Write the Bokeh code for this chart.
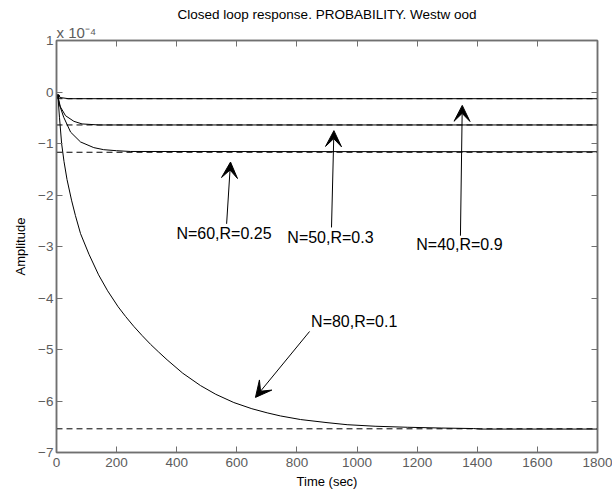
from bokeh.plotting import figure
from bokeh.models import Range1d, LinearAxis, Title, Arrow, VeeHead, FixedTicker, ColumnDataSource
from bokeh.core.properties import value
from bokeh.embed import file_html
from bokeh.resources import INLINE

# ---- data (amplitude in units of 1e-4) ----
time_ticks = [0, 200, 400, 600, 800, 1000, 1200, 1400, 1600, 1800]
amp_ticks = [-7, -6, -5, -4, -3, -2, -1, 0, 1]

t40 = [5, 15, 40, 1800]
v40 = [-0.08, -0.11, -0.13, -0.13]

t50 = [5, 13, 30, 58, 85, 141, 1800]
v50 = [-0.10, -0.29, -0.46, -0.57, -0.62, -0.64, -0.64]

t60 = [5, 10, 24, 47, 80, 124, 157, 200, 246, 1800]
v60 = [-0.10, -0.25, -0.49, -0.78, -0.97, -1.08, -1.12, -1.14, -1.155, -1.16]

t80 = [5, 10, 17, 25, 35, 50, 63, 80, 108, 140, 170, 205, 230, 257, 285, 313, 340,
       368, 420, 479, 530, 590, 650, 701, 745, 812, 900, 967, 1060, 1167, 1280,
       1388, 1410, 1800]
v80 = [-0.10, -0.50, -1.00, -1.35, -1.70, -2.10, -2.40, -2.75, -3.15, -3.55, -3.86,
       -4.17, -4.36, -4.55, -4.73, -4.90, -5.05, -5.20, -5.46, -5.70, -5.87, -6.03,
       -6.15, -6.23, -6.29, -6.36, -6.42, -6.46, -6.49, -6.51, -6.525, -6.535,
       -6.545, -6.545]

steady_levels = [-0.13, -0.64, -1.17, -6.54]

ann_text = ["N=60,R=0.25", "N=50,R=0.3", "N=40,R=0.9", "N=80,R=0.1"]
ann_x = [399, 768, 1197, 847]
ann_y = [-2.75, -2.82, -2.96, -4.45]

arrow_x0 = [566, 915, 1344, 842]
arrow_y0 = [-2.56, -2.63, -2.79, -4.65]
arrow_x1 = [579, 923, 1350, 662]
arrow_y1 = [-1.36, -0.75, -0.26, -5.93]

TITLE = "Closed loop response. PROBABILITY. Westw ood"
EXPONENT = "x 10\u207b\u2074"
FONT = "Liberation Sans"
GRAY = "#5c5c5c"
AXC = "#707070"

p = figure(width=612, height=494, output_backend="svg", toolbar_location=None,
           x_range=Range1d(0, 1800), y_range=Range1d(-7, 1))
p.min_border_left = 56
p.min_border_right = 15
p.min_border_top = 40
p.min_border_bottom = 42
p.background_fill_color = "white"
p.border_fill_color = "white"
p.outline_line_color = AXC
p.outline_line_width = 1.5
p.xgrid.visible = False
p.ygrid.visible = False

for ax, ticks in ((p.xaxis[0], time_ticks), (p.yaxis[0], amp_ticks)):
    ax.ticker = FixedTicker(ticks=ticks)
    ax.major_tick_in = 6
    ax.major_tick_out = 0
    ax.minor_tick_line_color = None
    ax.axis_line_color = AXC
    ax.axis_line_width = 1.5
    ax.major_tick_line_color = AXC
    ax.major_label_text_font = FONT
    ax.major_label_text_font_size = "13.5px"
    ax.major_label_text_color = GRAY
    ax.axis_label_text_font = FONT
    ax.axis_label_text_font_size = "13px"
    ax.axis_label_text_font_style = "normal"
    ax.axis_label_text_color = "black"

p.xaxis.axis_label = "Time (sec)"
p.yaxis.axis_label = "Amplitude"
p.xaxis.major_label_standoff = 5
p.xaxis.axis_label_standoff = 4
p.yaxis.major_label_standoff = 3
p.yaxis.axis_label_standoff = 7

# box ticks on top and right (no labels)
for loc, ticks in (("above", time_ticks), ("right", amp_ticks)):
    ax = LinearAxis(ticker=FixedTicker(ticks=ticks), major_label_text_font_size="0px",
                    major_label_text_color=None,
                    major_tick_in=6, major_tick_out=0, major_label_standoff=0,
                    minor_tick_line_color=None, axis_line_color=AXC, axis_line_width=1.5,
                    major_tick_line_color=AXC)
    p.add_layout(ax, loc)

# exponent (x 10^-4) just above the frame, left aligned
p.add_layout(Title(text=EXPONENT, align="left", text_font=FONT, text_font_size="15px",
                   text_font_style="normal", text_color=GRAY, standoff=0), "above")
# main title
p.add_layout(Title(text=TITLE, align="center", text_font=FONT, text_font_size="13.5px",
                   text_font_style="normal", text_color="black", standoff=0), "above")

# steady-state dashed lines
for lev in steady_levels:
    p.line([time_ticks[0], time_ticks[-1]], [lev, lev], line_color="black",
           line_width=1, line_dash="6 4")

# responses
for t, v in ((t40, v40), (t50, v50), (t60, v60), (t80, v80)):
    p.line(t, v, line_color="black", line_width=1)

p.scatter([t40[0]], [v40[0]], size=3, color="black")

# annotations
src = ColumnDataSource(dict(x=ann_x, y=ann_y, text=ann_text))
p.text(x="x", y="y", text="text", source=src, text_font=value(FONT),
       text_font_size="16px", text_baseline="middle", text_align="left",
       text_color="black")

asrc = ColumnDataSource(dict(x0=arrow_x0, y0=arrow_y0, x1=arrow_x1, y1=arrow_y1))
p.add_layout(Arrow(x_start="x0", y_start="y0", x_end="x1", y_end="y1", source=asrc,
                   line_color="black", line_width=1,
                   end=VeeHead(size=16, fill_color="black", line_color="black")))

open("out.html", "w").write(file_html(p, INLINE))
